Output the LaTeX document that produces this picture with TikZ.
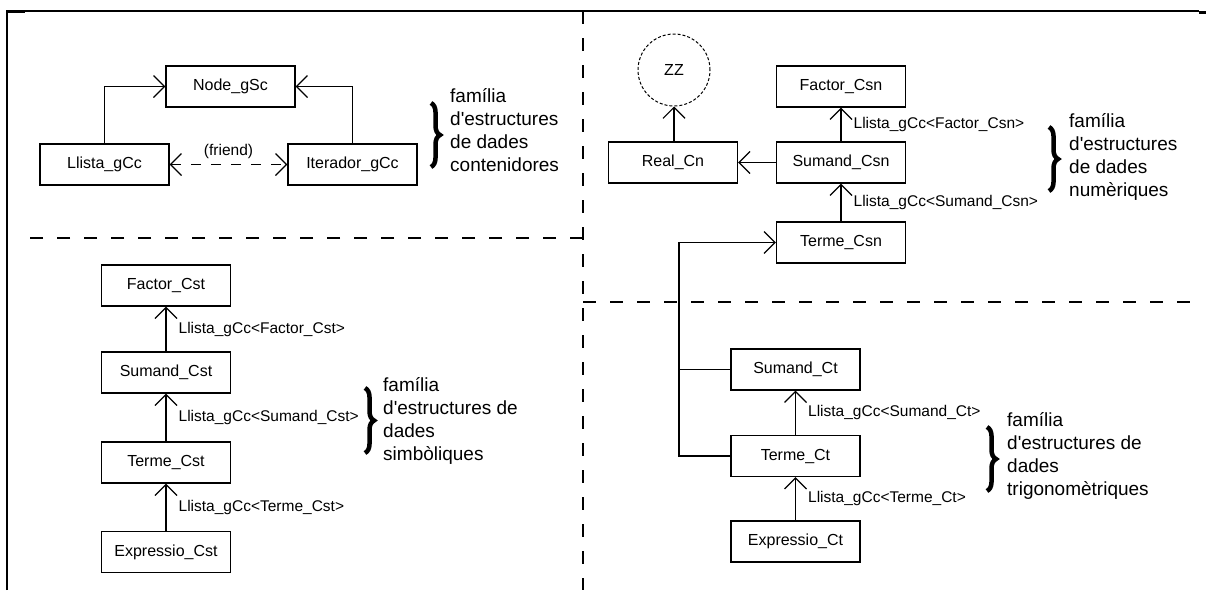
\documentclass[tikz,border=0pt]{standalone}
\usepackage{fontspec}
\setmainfont{Liberation Sans}
\usetikzlibrary{arrows.meta,decorations.pathreplacing}

\tikzset{
  box/.style={draw, line width=1.3pt, minimum width=129pt, minimum height=41pt,
              inner sep=0pt, font=\fontsize{16}{19}\selectfont},
  lbl/.style={font=\fontsize{15.5}{18}\selectfont, inner sep=0pt},
  fam/.style={font=\fontsize{19}{23}\selectfont, align=left, inner sep=0pt, anchor=north west},
  conn/.style={line width=1.3pt},
  arr/.style={conn, -{Straight Barb[length=11pt,width=22pt,line width=1.2pt]}},
  friendarr/.style={conn, dash pattern=on 10pt off 10pt,
              {Straight Barb[length=11pt,width=22pt,line width=1.2pt]}-{Straight Barb[length=11pt,width=22pt,line width=1.2pt]}},
  divider/.style={line width=1.3pt, dash pattern=on 13pt off 14pt},
  frame/.style={line width=1.6pt},
  fambrace/.style={line width=4.5pt, decorate, decoration={brace, amplitude=9pt}},
}

\begin{document}
\begin{tikzpicture}[x=1pt, y=-1pt]
\useasboundingbox (0,0) rectangle (1206,590);

% outer frame and section dividers
\draw[frame] (7,590) -- (7,11) -- (1199,11);
\draw[line width=3pt] (7,11) -- (25,11);
\draw[line width=3pt] (1199,12) -- (1206,12);
\draw[divider] (583,11) -- (583,590);
\draw[divider] (583,238) -- (27,238);
\draw[divider] (583,302) -- (1197,302);

% --- container structures ---
\node[box] (nodegsc) at (230.5,86.5) {Node\_gSc};
\node[box] (llista) at (104.5,164.5) {Llista\_gCc};
\node[box] (iter) at (352.5,164.5) {Iterador\_gCc};
\draw[arr] (llista.north) |- (nodegsc.west);
\draw[arr] (iter.north) |- (nodegsc.east);
\draw[friendarr] (llista.east) -- node[lbl, above=5pt] {(friend)} (iter.west);
\draw[fambrace] (431,103) -- (431,167);
\node[fam] (famcont) at (450,88) {família\\d\textquotesingle estructures\\de dades\\contenidores};

% --- symbolic structures ---
\node[box] (factorcst) at (166,285.5) {Factor\_Cst};
\node[box] (sumandcst) at (166,372.5) {Sumand\_Cst};
\node[box] (termecst) at (166,462.5) {Terme\_Cst};
\node[box] (exprcst) at (166,552) {Expressio\_Cst};
\draw[arr] (sumandcst.north) -- node[lbl, right=12pt] {Llista\_gCc<Factor\_Cst>} (factorcst.south);
\draw[arr] (termecst.north) -- node[lbl, right=12pt] {Llista\_gCc<Sumand\_Cst>} (sumandcst.south);
\draw[arr] (exprcst.north) -- node[lbl, right=12pt] {Llista\_gCc<Terme\_Cst>} (termecst.south);
\draw[fambrace] (365,388) -- (365,453);
\node[fam] (famsimb) at (383,377) {família\\d\textquotesingle estructures de\\dades\\simbòliques};

% --- numeric structures ---
\node[draw, circle, line width=1pt, dash pattern=on 3pt off 2pt, minimum size=72pt,
      inner sep=0pt, font=\fontsize{16}{19}\selectfont] (zz) at (674,70) {ZZ};
\node[box] (realcn) at (673,162.5) {Real\_Cn};
\node[box] (sumandcsn) at (841,162.5) {Sumand\_Csn};
\node[box] (factorcsn) at (841,86.5) {Factor\_Csn};
\node[box] (termecsn) at (841,242.5) {Terme\_Csn};
\draw[arr] (realcn.north -| zz.south) -- (zz.south);
\draw[arr] (sumandcsn.west) -- (realcn.east);
\draw[arr] (sumandcsn.north) -- node[lbl, right=12pt] {Llista\_gCc<Factor\_Csn>} (factorcsn.south);
\draw[arr] (termecsn.north) -- node[lbl, right=12pt] {Llista\_gCc<Sumand\_Csn>} (sumandcsn.south);
\draw[fambrace] (1049,127) -- (1049,191);
\node[fam] (famnum) at (1069,113) {família\\d\textquotesingle estructures\\de dades\\numèriques};

% --- trigonometric structures ---
\node[box] (sumandct) at (795.5,369.5) {Sumand\_Ct};
\node[box] (termect) at (795.5,456) {Terme\_Ct};
\node[box] (exprct) at (795.5,541.5) {Expressio\_Ct};
\coordinate (trunk) at (679,456);
\draw[arr] (termect.west) -- (trunk) |- (termecsn.west);
\draw[conn] (sumandct.west) -- (sumandct.west -| trunk);
\draw[arr] (termect.north) -- node[lbl, right=12pt] {Llista\_gCc<Sumand\_Ct>} (sumandct.south);
\draw[arr] (exprct.north) -- node[lbl, right=12pt] {Llista\_gCc<Terme\_Ct>} (termect.south);
\draw[fambrace] (987,427) -- (987,491);
\node[fam] (famtrig) at (1007,412) {família\\d\textquotesingle estructures de\\dades\\trigonomètriques};
\end{tikzpicture}
\end{document}
